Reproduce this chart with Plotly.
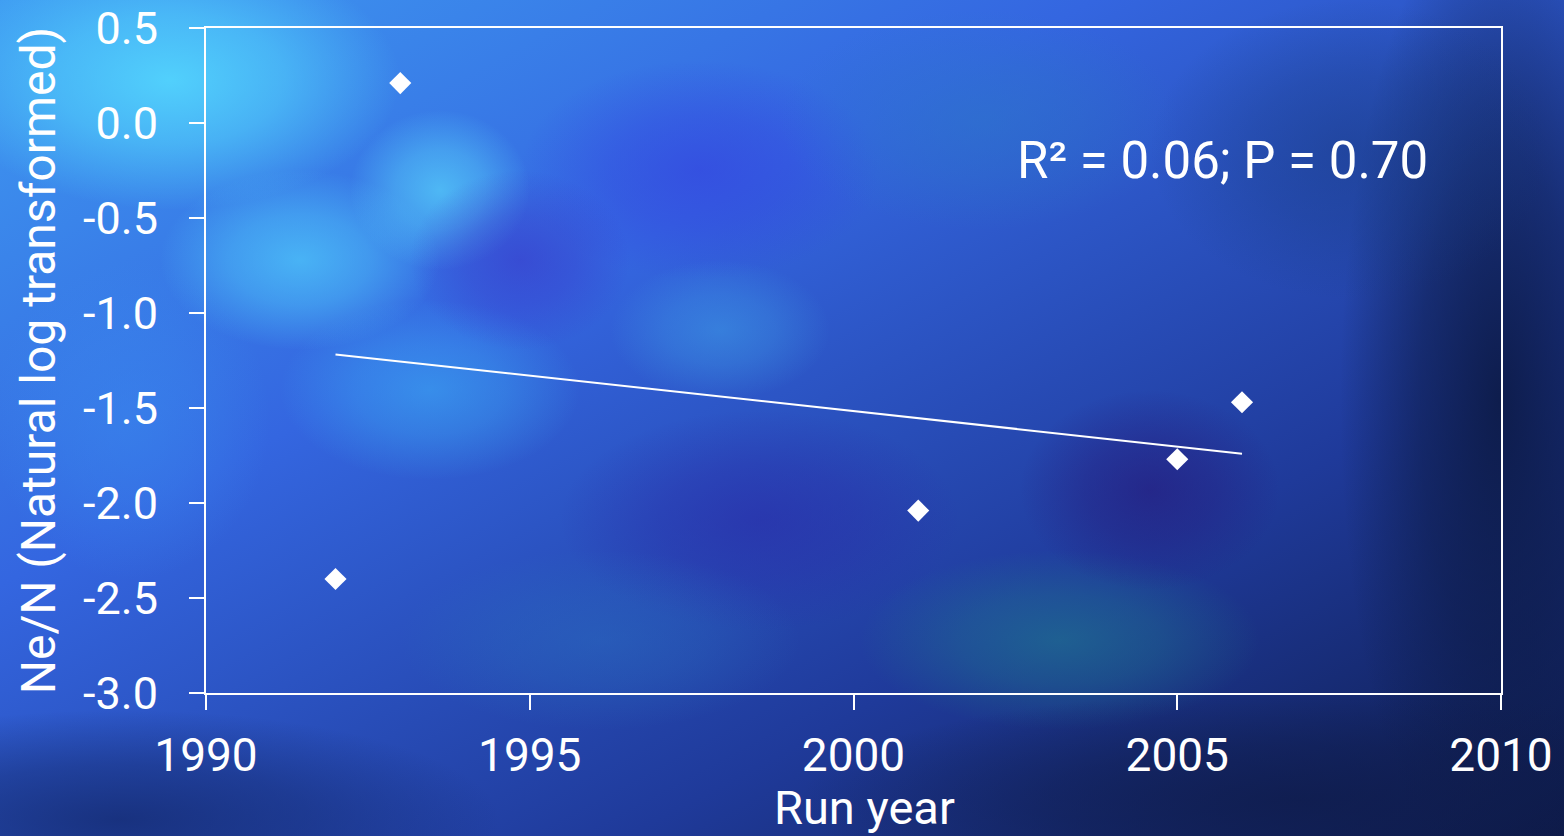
import base64
import numpy as np
import plotly.graph_objects as go

# data
run_year = [1992, 1993, 2001, 2005, 2006]
ne_n_log = [-2.40, 0.21, -2.04, -1.77, -1.47]
stats_text = "R² = 0.06; P = 0.70"

x_ticks = [1990, 1995, 2000, 2005, 2010]
y_ticks = [0.5, 0.0, -0.5, -1.0, -1.5, -2.0, -2.5, -3.0]
y_tick_text = ["0.5", "0.0", "-0.5", "-1.0", "-1.5", "-2.0", "-2.5", "-3.0"]

# linear fit for the trend line
slope, icpt = np.polyfit(run_year, ne_n_log, 1)
fit_x = [min(run_year), max(run_year)]
fit_y = [slope * v + icpt for v in fit_x]

# blurry blue backdrop, like the slide template (soft radial blobs)
blobs = [
    (170, 80, 230, 130, "#55dcff", 0.85),
    (300, 260, 140, 90, "#50cdfc", 0.7),
    (440, 190, 90, 80, "#58d4fb", 0.7),
    (430, 390, 150, 90, "#3cb0f6", 0.55),
    (130, 420, 140, 160, "#3a8cf0", 0.5),
    (700, 170, 180, 110, "#3440e0", 0.6),
    (520, 260, 110, 90, "#3a34c8", 0.55),
    (720, 330, 110, 70, "#40a8ea", 0.45),
    (760, 520, 200, 110, "#2a2aa8", 0.6),
    (600, 640, 200, 90, "#2a70c0", 0.45),
    (1060, 640, 200, 90, "#1f7a90", 0.6),
    (1150, 490, 130, 100, "#26187a", 0.6),
    (980, 120, 200, 110, "#2c78c8", 0.5),
    (1500, 400, 160, 500, "#0b1840", 0.85),
    (120, 820, 380, 110, "#142a70", 0.8),
    (1300, 800, 500, 110, "#0f1c4c", 0.8),
    (1350, 150, 200, 150, "#183a80", 0.5),
]
defs = []
shapes_svg = []
for i, (cx, cy, rx, ry, col, op) in enumerate(blobs):
    defs.append(
        f"<radialGradient id='r{i}'><stop offset='0' stop-color='{col}' stop-opacity='{op}'/>"
        f"<stop offset='0.5' stop-color='{col}' stop-opacity='{op * 0.6:.2f}'/>"
        f"<stop offset='1' stop-color='{col}' stop-opacity='0'/></radialGradient>"
    )
    shapes_svg.append(f"<ellipse cx='{cx}' cy='{cy}' rx='{rx}' ry='{ry}' fill='url(#r{i})'/>")

bg_svg = (
    "<svg xmlns='http://www.w3.org/2000/svg' width='1564' height='836'><defs>"
    "<linearGradient id='g' x1='0' y1='0' x2='1' y2='1'>"
    "<stop offset='0' stop-color='#3f9cf2'/><stop offset='0.35' stop-color='#3466e0'/>"
    "<stop offset='0.7' stop-color='#1f3a9a'/><stop offset='1' stop-color='#0d1a48'/>"
    "</linearGradient>" + "".join(defs) + "</defs>"
    "<rect width='1564' height='836' fill='url(#g)'/>" + "".join(shapes_svg) + "</svg>"
)
bg_src = "data:image/svg+xml;base64," + base64.b64encode(bg_svg.encode()).decode()

font = "Roboto, 'Open Sans', sans-serif"

fig = go.Figure()

fig.add_trace(go.Scatter(
    x=fit_x, y=fit_y, mode="lines",
    line=dict(color="white", width=2),
    hoverinfo="skip", showlegend=False,
))

fig.add_trace(go.Scatter(
    x=run_year, y=ne_n_log, mode="markers",
    marker=dict(symbol="diamond", size=17, color="white", line=dict(width=0)),
    showlegend=False,
))

fig.add_annotation(
    x=0.785, y=0.80, xref="paper", yref="paper",
    text=stats_text, showarrow=False,
    font=dict(family=font, size=51, color="white"),
    xanchor="center", yanchor="middle",
)

# x title as annotation so it can sit slightly right of centre like the original
fig.add_annotation(
    x=(864 - 206) / 1295, y=-0.128, xref="paper", yref="paper",
    text="Run year", showarrow=False,
    font=dict(family=font, size=47, color="white"),
    xanchor="center", yanchor="top",
)

fig.update_layout(
    width=1564, height=836,
    margin=dict(l=206, r=63, t=28, b=143),
    paper_bgcolor="#1a3a9a",
    plot_bgcolor="rgba(0,0,0,0)",
    font=dict(family=font, color="white"),
    images=[dict(
        source=bg_src, xref="paper", yref="paper",
        x=-206 / 1295, y=1 + 28 / 665,
        sizex=1564 / 1295, sizey=836 / 665,
        xanchor="left", yanchor="top",
        sizing="stretch", layer="below",
    )],
)

fig.update_xaxes(
    range=[1990, 2010], tickvals=x_ticks,
    ticks="outside", ticklen=15, tickwidth=2, tickcolor="white",
    showline=True, linecolor="white", linewidth=2, mirror=True,
    showgrid=False, zeroline=False, automargin=False,
    tickfont=dict(size=46, color="white"),
    ticklabelstandoff=6,
)

fig.update_yaxes(
    range=[-3.0, 0.5], tickvals=y_ticks, ticktext=y_tick_text,
    ticks="outside", ticklen=15, tickwidth=2, tickcolor="white",
    showline=True, linecolor="white", linewidth=2, mirror=True,
    showgrid=False, zeroline=False, automargin=False,
    tickfont=dict(size=45, color="white"),
    ticklabelstandoff=22,
    title=dict(text="Ne/N (Natural log transformed)", font=dict(size=48, color="white"), standoff=12),
)

fig.write_html("out.html", config={"displayModeBar": False},
               post_script="document.body.style.margin='0';")
